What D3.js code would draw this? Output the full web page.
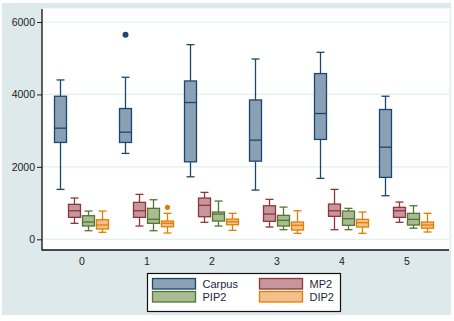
<!DOCTYPE html>
<meta charset="utf-8">
<html>
<script src="https://d3js.org/d3.v7.min.js"></script>
<style>
  body { margin: 0; background: #fff; }
  text { font-family: "Liberation Sans", Arial, sans-serif; }
</style>
<body>
<div id="chart"></div>
<script>
  // categories and series
  const categories = [0, 1, 2, 3, 4, 5];
  const seriesNames = ["Carpus", "MP2", "PIP2", "DIP2"];
  const yTicks = [0, 2000, 4000, 6000];

  // [lower whisker, q1, median, q3, upper whisker] per category
  const carpus = [
    [1378, 2674, 3068, 3950, 4400],
    [2371, 2674, 2958, 3611, 4474],
    [1726, 2139, 3777, 4372, 5375],
    [1359, 2158, 2737, 3848, 4979],
    [1682, 2757, 3473, 4576, 5163],
    [1203, 1709, 2544, 3584, 3950]
  ];
  const mp2 = [
    [441, 606, 788, 965, 1140],
    [367, 606, 788, 1020, 1240],
    [469, 623, 937, 1139, 1296],
    [339, 496, 697, 926, 1103],
    [265, 634, 788, 973, 1378],
    [469, 606, 788, 882, 1028]
  ];
  const pip2 = [
    [237, 367, 477, 651, 780],
    [237, 441, 551, 855, 1092],
    [367, 504, 697, 753, 1056],
    [265, 367, 524, 661, 890],
    [265, 386, 568, 780, 855],
    [306, 394, 551, 717, 926]
  ];
  const dip2 = [
    [193, 284, 394, 540, 780],
    [174, 347, 441, 504, 717],
    [248, 402, 485, 560, 717],
    [165, 256, 386, 477, 788],
    [165, 339, 458, 551, 753],
    [201, 306, 394, 477, 717]
  ];
  // outside values: [series, category, value]
  const outliers = [
    ["Carpus", 1, 5650],
    ["DIP2", 1, 882]
  ];

  const boxData = { Carpus: carpus, MP2: mp2, PIP2: pip2, DIP2: dip2 };
  const strokes = { Carpus: "#1a476f", MP2: "#90353b", PIP2: "#55752f", DIP2: "#e37e00" };
  const fills = { Carpus: "#8aa0b4", MP2: "#c7969c", PIP2: "#a8bc94", DIP2: "#f2c08c" };

  const W = 454, H = 321;
  const svg = d3.select("#chart").append("svg")
      .attr("width", W).attr("height", H);

  // graph region
  svg.append("rect")
      .attr("x", 2).attr("y", 3).attr("width", 449).attr("height", 312)
      .attr("fill", "#dde9ea");
  svg.append("rect")
      .attr("x", 42).attr("y", 8).attr("width", 408).attr("height", 242)
      .attr("fill", "#fff").attr("stroke", "#e6eff0");

  const y = d3.scaleLinear().domain([0, 6000]).range([239.3, 22]);
  const x = d3.scalePoint().domain(categories).range([81.5, 406.5]);
  const xs = d3.scalePoint().domain(seriesNames).range([-21, 21]);
  const boxW = 12, capW = 8;

  // gridlines
  svg.append("g").selectAll("line")
    .data(yTicks)
    .join("line")
      .attr("x1", 43).attr("x2", 449)
      .attr("y1", d => y(d)).attr("y2", d => y(d))
      .attr("stroke", "#e3eeef").attr("stroke-width", 1.2);

  // y axis
  const yAxis = svg.append("g")
      .attr("transform", "translate(42,0)")
      .call(d3.axisLeft(y).tickValues(yTicks).tickFormat(d3.format("d"))
        .tickSize(5).tickSizeOuter(0).tickPadding(2));
  yAxis.select(".domain").remove();
  yAxis.selectAll("text").attr("font-size", 10.5).attr("fill", "#222");
  yAxis.selectAll(".tick line").attr("stroke", "#222");

  // x axis (labels only)
  const xAxis = svg.append("g")
      .attr("transform", "translate(0,250)")
      .call(d3.axisBottom(x).tickSize(0).tickPadding(8));
  xAxis.select(".domain").remove();
  xAxis.selectAll("text").attr("font-size", 10.5).attr("fill", "#222");

  svg.append("line").attr("x1", 42).attr("x2", 42).attr("y1", 9).attr("y2", 250.5)
      .attr("stroke", "#111").attr("stroke-width", 1.3);
  svg.append("line").attr("x1", 42).attr("x2", 449).attr("y1", 250).attr("y2", 250)
      .attr("stroke", "#111").attr("stroke-width", 1.3);

  // boxes
  seriesNames.forEach(s => {
    const g = svg.append("g");
    const rows = boxData[s].map((v, i) => ({ cat: categories[i], v: v }));
    const cx = d => x(d.cat) + xs(s);
    const grp = g.selectAll("g").data(rows).join("g")
        .attr("stroke", strokes[s]).attr("stroke-width", 1.3);
    // whiskers
    grp.append("line")
        .attr("x1", cx).attr("x2", cx)
        .attr("y1", d => y(d.v[0])).attr("y2", d => y(d.v[1]));
    grp.append("line")
        .attr("x1", cx).attr("x2", cx)
        .attr("y1", d => y(d.v[3])).attr("y2", d => y(d.v[4]));
    grp.append("line")
        .attr("x1", d => cx(d) - capW / 2).attr("x2", d => cx(d) + capW / 2)
        .attr("y1", d => y(d.v[0])).attr("y2", d => y(d.v[0]));
    grp.append("line")
        .attr("x1", d => cx(d) - capW / 2).attr("x2", d => cx(d) + capW / 2)
        .attr("y1", d => y(d.v[4])).attr("y2", d => y(d.v[4]));
    // box
    grp.append("rect")
        .attr("x", d => cx(d) - boxW / 2).attr("width", boxW)
        .attr("y", d => y(d.v[3])).attr("height", d => y(d.v[1]) - y(d.v[3]))
        .attr("fill", fills[s]);
    // median
    grp.append("line")
        .attr("x1", d => cx(d) - boxW / 2).attr("x2", d => cx(d) + boxW / 2)
        .attr("y1", d => y(d.v[2])).attr("y2", d => y(d.v[2]));
  });

  // outside values
  svg.append("g").selectAll("circle")
    .data(outliers)
    .join("circle")
      .attr("cx", d => x(d[1]) + xs(d[0]))
      .attr("cy", d => y(d[2]))
      .attr("r", d => d[0] === "Carpus" ? 3 : 2.6)
      .attr("fill", d => strokes[d[0]]);

  // legend
  const leg = svg.append("g");
  leg.append("rect")
      .attr("x", 147.5).attr("y", 273.5).attr("width", 193).attr("height", 38)
      .attr("fill", "#fff").attr("stroke", "#111").attr("stroke-width", 1.2);
  const legPos = [
    { s: "Carpus", x: 152.5, y: 278.5 },
    { s: "MP2", x: 259.5, y: 278.5 },
    { s: "PIP2", x: 152.5, y: 291.5 },
    { s: "DIP2", x: 259.5, y: 291.5 }
  ];
  const items = leg.selectAll("g.item").data(legPos).join("g").attr("class", "item");
  items.append("rect")
      .attr("x", d => d.x).attr("y", d => d.y)
      .attr("width", 43).attr("height", 10.5)
      .attr("fill", d => fills[d.s]).attr("stroke", d => strokes[d.s]).attr("stroke-width", 1.3);
  items.append("text")
      .attr("x", d => d.x + 50).attr("y", d => d.y + 5.5)
      .attr("dy", "0.35em")
      .attr("font-size", 11).attr("fill", "#1e1e3a")
      .text(d => d.s);
</script>
</body>
</html>
